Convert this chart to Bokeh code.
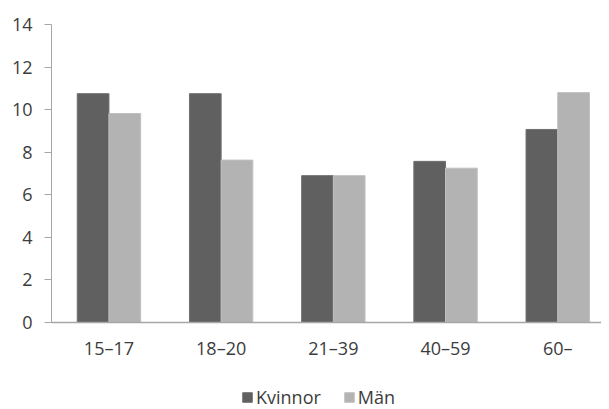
import numpy as np
from bokeh.plotting import figure
from bokeh.layouts import column
from bokeh.models import (ColumnDataSource, Range1d, FixedTicker, Legend, LegendItem)
from bokeh.embed import file_html
from bokeh.resources import INLINE

categories = ["15\u201317", "18\u201320", "21\u201339", "40\u201359", "60\u2013"]
kvinnor = [10.75, 10.75, 6.9, 7.57, 9.07]
man = [9.82, 7.63, 6.9, 7.25, 10.8]
y_ticks = [0, 2, 4, 6, 8, 10, 12, 14]
series_names = ["Kvinnor", "M\u00e4n"]
series_colors = ["#606060", "#b3b3b3"]
series_lines = ["#707070", "#c0c0c0"]

FONT = "Open Sans"
FS = "18px"
TXT = "#3c3c3c"
AX = "#a6a6a6"
BW = 0.2825
W = 601

centers = np.arange(len(categories)) + 0.5
src = ColumnDataSource(dict(
    xk=centers - BW / 2, xm=centers + BW / 2, k=kvinnor, m=man))

p = figure(width=W, height=362, output_backend="svg", toolbar_location=None,
           x_range=Range1d(-0.012, 4.89), y_range=Range1d(0, 14))
p.min_border_left = 51
p.min_border_top = 24
p.min_border_right = 0
p.min_border_bottom = 39
p.outline_line_color = None

p.vbar(x="xk", top="k", width=BW, source=src, fill_color=series_colors[0], line_color=series_lines[0])
p.vbar(x="xm", top="m", width=BW, source=src, fill_color=series_colors[1], line_color=series_lines[1])

p.xgrid.visible = False
p.ygrid.ticker = FixedTicker(ticks=[14])
p.ygrid.grid_line_color = AX
p.ygrid.grid_line_width = 1.5

p.yaxis.ticker = FixedTicker(ticks=y_ticks)
p.yaxis.axis_line_color = AX
p.yaxis.major_tick_line_color = AX
p.yaxis.major_tick_out = 7
p.yaxis.major_tick_in = 0
p.yaxis.minor_tick_line_color = None
p.yaxis.major_label_standoff = 12
p.yaxis.major_label_text_font = FONT
p.yaxis.major_label_text_font_size = FS
p.yaxis.major_label_text_color = TXT

p.xaxis.ticker = FixedTicker(ticks=list(centers))
p.xaxis.major_label_overrides = {float(c): lab for c, lab in zip(centers, categories)}
p.xaxis.axis_line_color = AX
p.xaxis.axis_line_width = 1.5
p.xaxis.major_tick_line_color = None
p.xaxis.minor_tick_line_color = None
p.xaxis.major_label_standoff = 7
p.xaxis.major_label_text_font = FONT
p.xaxis.major_label_text_font_size = FS
p.xaxis.major_label_text_color = TXT

# legend-only strip below the chart
lg = figure(width=W, height=47, output_backend="svg", toolbar_location=None,
            x_range=Range1d(0, 1), y_range=Range1d(0, 1),
            x_axis_location=None, y_axis_location=None)
lg.min_border_left = 0
lg.min_border_right = 0
lg.min_border_top = 0
lg.min_border_bottom = 0
lg.outline_line_color = None
lg.grid.visible = False
items = []
for name, fc, lc in zip(series_names, series_colors, series_lines):
    # placeholder glyph kept outside the visible range; only its legend swatch shows
    r = lg.vbar(x=[-5], top=[-5], width=0.1, fill_color=fc, line_color=lc)
    items.append(LegendItem(label=name, renderers=[r]))
legend = Legend(items=items, orientation="horizontal", location=(190, 0))
legend.label_text_font = FONT
legend.label_text_font_size = FS
legend.label_text_color = TXT
legend.glyph_width = 12
legend.glyph_height = 12
legend.label_standoff = 3
legend.spacing = 22
legend.border_line_color = None
legend.background_fill_alpha = 0
legend.padding = 0
legend.margin = 0
legend.label_height = 17
lg.add_layout(legend, "center")

layout = column(p, lg, spacing=0)
open("out.html", "w").write(file_html(layout, INLINE))
